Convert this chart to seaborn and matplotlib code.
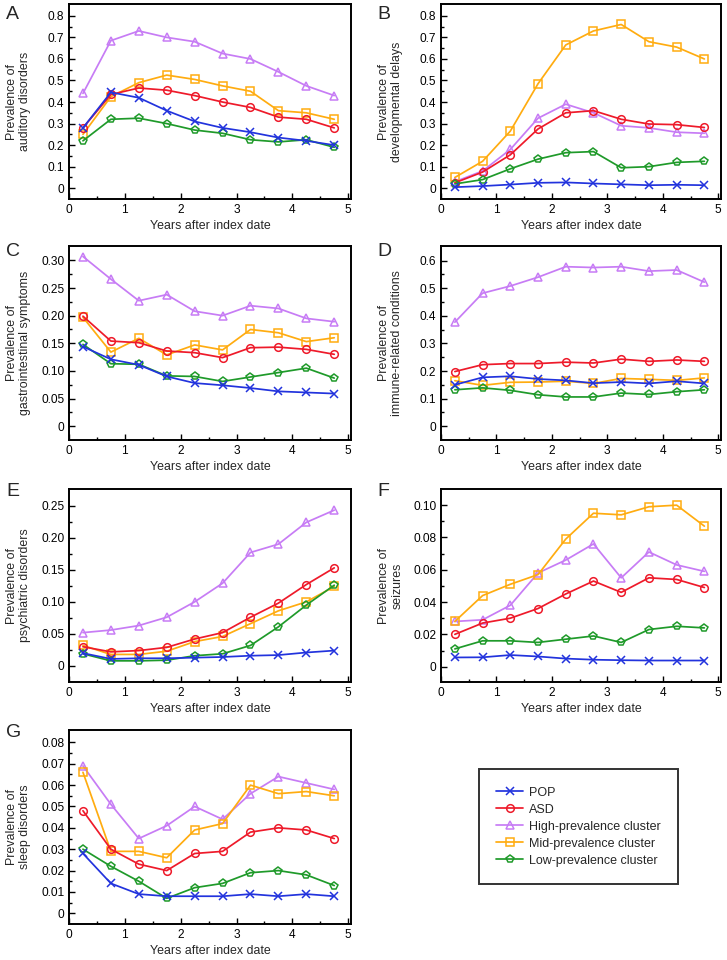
import numpy as np
import pandas as pd
import seaborn as sns
import matplotlib.pyplot as plt
from matplotlib.ticker import MultipleLocator, FixedLocator

years = [0.25, 0.75, 1.25, 1.75, 2.25, 2.75, 3.25, 3.75, 4.25, 4.75]
groups = ['POP', 'ASD', 'High-prevalence cluster', 'Mid-prevalence cluster',
          'Low-prevalence cluster']

# A - auditory disorders
auditory = {
    'POP': [0.28, 0.445, 0.42, 0.36, 0.31, 0.28, 0.26, 0.235, 0.22, 0.20],
    'ASD': [0.28, 0.435, 0.465, 0.455, 0.43, 0.40, 0.375, 0.33, 0.32, 0.28],
    'High-prevalence cluster': [0.44, 0.685, 0.73, 0.70, 0.68, 0.625, 0.60, 0.54, 0.475, 0.43],
    'Mid-prevalence cluster': [0.25, 0.425, 0.49, 0.525, 0.505, 0.475, 0.45, 0.36, 0.35, 0.32],
    'Low-prevalence cluster': [0.22, 0.32, 0.325, 0.30, 0.27, 0.255, 0.225, 0.215, 0.225, 0.19],
}
# B - developmental delays
developmental = {
    'POP': [0.005, 0.01, 0.017, 0.025, 0.027, 0.022, 0.018, 0.014, 0.016, 0.014],
    'ASD': [0.025, 0.075, 0.155, 0.275, 0.35, 0.36, 0.32, 0.298, 0.295, 0.282],
    'High-prevalence cluster': [0.03, 0.08, 0.18, 0.325, 0.39, 0.35, 0.29, 0.28, 0.26, 0.255],
    'Mid-prevalence cluster': [0.05, 0.125, 0.265, 0.485, 0.665, 0.73, 0.76, 0.68, 0.655, 0.60],
    'Low-prevalence cluster': [0.02, 0.04, 0.09, 0.135, 0.165, 0.17, 0.095, 0.10, 0.12, 0.125],
}
# C - gastrointestinal symptoms
gastro = {
    'POP': [0.144, 0.121, 0.111, 0.090, 0.078, 0.074, 0.069, 0.063, 0.061, 0.059],
    'ASD': [0.199, 0.154, 0.151, 0.136, 0.133, 0.124, 0.142, 0.143, 0.139, 0.130],
    'High-prevalence cluster': [0.307, 0.266, 0.227, 0.238, 0.208, 0.200, 0.218, 0.213, 0.195, 0.189],
    'Mid-prevalence cluster': [0.197, 0.134, 0.159, 0.129, 0.147, 0.138, 0.175, 0.169, 0.153, 0.160],
    'Low-prevalence cluster': [0.148, 0.113, 0.112, 0.091, 0.090, 0.081, 0.089, 0.097, 0.105, 0.087],
}
# D - immune-related conditions
immune = {
    'POP': [0.150, 0.177, 0.181, 0.171, 0.166, 0.156, 0.160, 0.155, 0.163, 0.155],
    'ASD': [0.198, 0.223, 0.227, 0.227, 0.232, 0.229, 0.243, 0.235, 0.240, 0.235],
    'High-prevalence cluster': [0.377, 0.482, 0.508, 0.540, 0.578, 0.575, 0.578, 0.562, 0.566, 0.522],
    'Mid-prevalence cluster': [0.165, 0.148, 0.159, 0.160, 0.163, 0.155, 0.173, 0.170, 0.166, 0.175],
    'Low-prevalence cluster': [0.132, 0.139, 0.130, 0.114, 0.106, 0.106, 0.120, 0.115, 0.125, 0.132],
}
# E - psychiatric disorders
psychiatric = {
    'POP': [0.020, 0.011, 0.012, 0.012, 0.013, 0.014, 0.016, 0.017, 0.021, 0.024],
    'ASD': [0.030, 0.022, 0.024, 0.029, 0.042, 0.052, 0.076, 0.098, 0.127, 0.153],
    'High-prevalence cluster': [0.052, 0.056, 0.063, 0.076, 0.100, 0.129, 0.177, 0.190, 0.224, 0.243],
    'Mid-prevalence cluster': [0.032, 0.018, 0.018, 0.023, 0.038, 0.046, 0.066, 0.086, 0.100, 0.124],
    'Low-prevalence cluster': [0.019, 0.008, 0.008, 0.009, 0.016, 0.019, 0.032, 0.061, 0.095, 0.126],
}
# F - seizures
seizures = {
    'POP': [0.0057, 0.0058, 0.0072, 0.0063, 0.0050, 0.0043, 0.0040, 0.0038, 0.0038, 0.0038],
    'ASD': [0.020, 0.027, 0.030, 0.036, 0.045, 0.053, 0.046, 0.055, 0.054, 0.049],
    'High-prevalence cluster': [0.028, 0.029, 0.038, 0.058, 0.066, 0.076, 0.055, 0.071, 0.063, 0.059],
    'Mid-prevalence cluster': [0.028, 0.044, 0.051, 0.057, 0.079, 0.095, 0.094, 0.099, 0.100, 0.087],
    'Low-prevalence cluster': [0.011, 0.016, 0.016, 0.015, 0.017, 0.019, 0.015, 0.023, 0.025, 0.024],
}
# G - sleep disorders
sleep = {
    'POP': [0.028, 0.014, 0.009, 0.008, 0.008, 0.008, 0.009, 0.008, 0.009, 0.008],
    'ASD': [0.048, 0.030, 0.023, 0.020, 0.028, 0.029, 0.038, 0.040, 0.039, 0.035],
    'High-prevalence cluster': [0.069, 0.051, 0.035, 0.041, 0.050, 0.044, 0.056, 0.064, 0.061, 0.058],
    'Mid-prevalence cluster': [0.066, 0.029, 0.029, 0.026, 0.039, 0.042, 0.060, 0.056, 0.057, 0.055],
    'Low-prevalence cluster': [0.030, 0.022, 0.015, 0.007, 0.012, 0.014, 0.019, 0.020, 0.018, 0.013],
}

panels = ['A', 'B', 'C', 'D', 'E', 'F', 'G']
panel_data = [auditory, developmental, gastro, immune, psychiatric, seizures, sleep]
ylabels = ['Prevalence of\nauditory disorders', 'Prevalence of\ndevelopmental delays',
           'Prevalence of\ngastrointestinal symptoms', 'Prevalence of\nimmune-related conditions',
           'Prevalence of\npsychiatric disorders', 'Prevalence of\nseizures',
           'Prevalence of\nsleep disorders']
yticks = [np.arange(0, 0.81, 0.1), np.arange(0, 0.81, 0.1), np.arange(0, 0.31, 0.05),
          np.arange(0, 0.61, 0.1), np.arange(0, 0.26, 0.05), np.arange(0, 0.101, 0.02),
          np.arange(0, 0.081, 0.01)]
ydecimals = [1, 1, 2, 1, 2, 2, 2]
ylims = [(-0.05, 0.855), (-0.05, 0.855), (-0.025, 0.326), (-0.05, 0.653),
         (-0.025, 0.276), (-0.0095, 0.11), (-0.005, 0.0858)]

palette = {'POP': '#2233dd', 'ASD': '#ee1a2a', 'High-prevalence cluster': '#c77cf5',
           'Mid-prevalence cluster': '#ffac10', 'Low-prevalence cluster': '#1f9a2a'}
markers = {'POP': 'x', 'ASD': 'o', 'High-prevalence cluster': '^',
           'Mid-prevalence cluster': 's', 'Low-prevalence cluster': 'p'}

sns.set_theme(style='white')
plt.rcParams['font.family'] = ['Liberation Sans', 'DejaVu Sans']
plt.rcParams['font.size'] = 8

fig = plt.figure(figsize=(7.27, 9.6), dpi=100)

# axes boxes in pixels (left, top, right, bottom)
W, H = 727, 960
cols = [(69, 351), (441, 721)]
rows = [(4, 199), (246, 440), (489, 682), (730, 924)]

letter_pos = [(6, 6), (377, 6), (6, 243), (377, 243), (6, 483), (377, 483), (6, 724)]

draw_order = ['High-prevalence cluster', 'Mid-prevalence cluster', 'ASD',
              'Low-prevalence cluster', 'POP']

for i, (name, data) in enumerate(zip(panels, panel_data)):
    c0, c1 = cols[i % 2]
    r0, r1 = rows[i // 2]
    ax = fig.add_axes([c0 / W, 1 - r1 / H, (c1 - c0) / W, (r1 - r0) / H])

    for g in draw_order:
        df = pd.DataFrame({'x': years, 'y': data[g], 'group': g})
        sns.lineplot(data=df, x='x', y='y', color=palette[g], marker=markers[g],
                     ax=ax, legend=False, linewidth=1.25, markersize=5.5,
                     markerfacecolor='none', markeredgecolor=palette[g],
                     markeredgewidth=1.1, label=g)

    ax.set_xlim(0, 5.05)
    ax.set_ylim(*ylims[i])
    ax.set_xticks([0, 1, 2, 3, 4, 5])
    ax.xaxis.set_minor_locator(MultipleLocator(0.5))
    yt = yticks[i]
    ax.set_yticks(yt)
    ax.set_yticklabels(['0' if v == 0 else f'{v:.{ydecimals[i]}f}' for v in yt])
    step = yt[1] - yt[0]
    ax.yaxis.set_minor_locator(FixedLocator(yt[:-1] + step / 2))
    ax.tick_params(which='both', direction='in', left=True, bottom=True,
                   top=False, right=False, labelsize=8.6, colors='black', width=1)
    ax.tick_params(which='major', length=4, pad=3.5)
    ax.tick_params(which='minor', length=2.5)
    for sp in ax.spines.values():
        sp.set_color('black')
        sp.set_linewidth(1.4)
    ax.set_xlabel('Years after index date', fontsize=8.9, labelpad=3)
    ax.set_ylabel(ylabels[i], fontsize=8.9, linespacing=1.1)
    ax.yaxis.set_label_coords(-0.135, 0.5)

    lx, ly = letter_pos[i]
    fig.text(lx / W, 1 - ly / H, name, fontsize=14, ha='left', va='top')

    if i == 0:
        handle_ax = ax

# legend built from the lines of panel A, in the POP..Low order
line_by_label = {l.get_label(): l for l in handle_ax.lines}
handles = [line_by_label[g] for g in groups]
leg = fig.legend(handles, groups, loc='center', bbox_to_anchor=(0.7957, 0.139),
                 frameon=True, fancybox=False, edgecolor='black', fontsize=9,
                 handlelength=2.16, borderpad=1.4, labelspacing=0.4,
                 borderaxespad=0, handletextpad=0.45)
leg.get_frame().set_linewidth(1.4)

fig.savefig('out.png', dpi=100, facecolor='white')
